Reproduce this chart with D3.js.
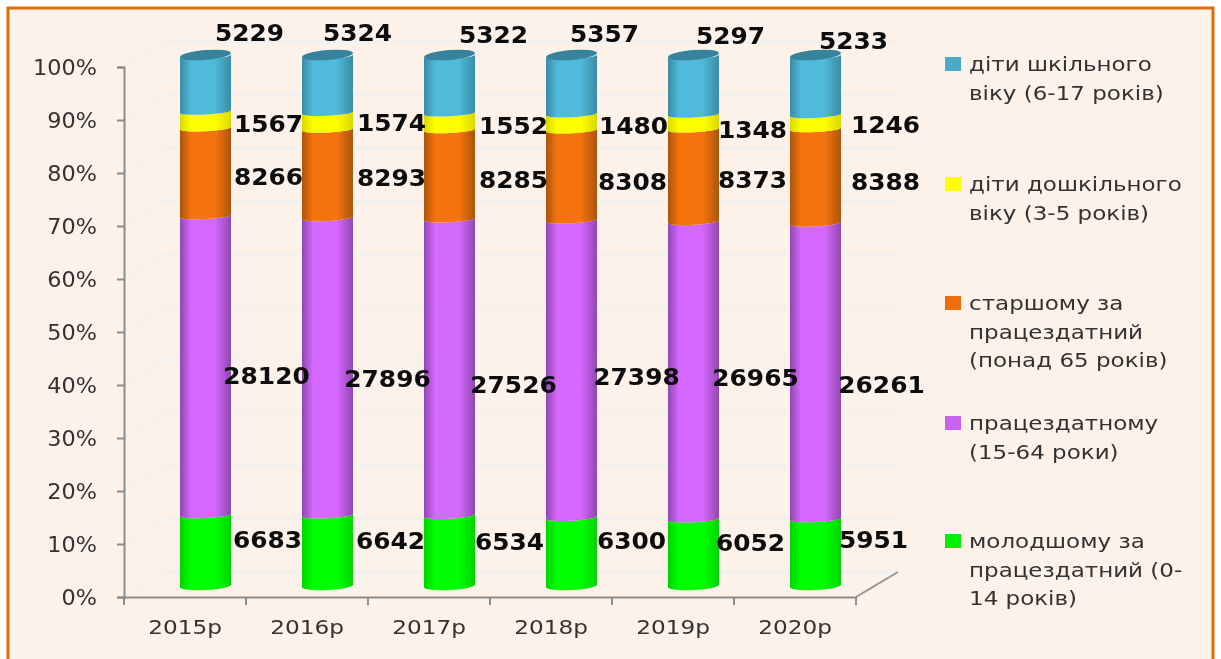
<!DOCTYPE html>
<html><head><meta charset="utf-8">
<style>html,body{margin:0;padding:0;background:#fff;overflow:hidden}svg{display:block}text{font-family:"DejaVu Sans",sans-serif}</style>
<script src="https://cdn.jsdelivr.net/npm/d3@7/dist/d3.min.js"></script>
</head><body><svg id="c" width="1221" height="659"></svg>
<script>
const years=["2015р","2016р","2017р","2018р","2019р","2020р"];
const young=[6683,6642,6534,6300,6052,5951];
const working=[28120,27896,27526,27398,26965,26261];
const elder=[8266,8293,8285,8308,8373,8388];
const preschool=[1567,1574,1552,1480,1348,1246];
const school=[5229,5324,5322,5357,5297,5233];
const percentTicks=[0,.1,.2,.3,.4,.5,.6,.7,.8,.9,1];
const legendYoung=["молодшому за","працездатний (0-","14 років)"];
const legendWorking=["працездатному","(15-64 роки)"];
const legendElder=["старшому за","працездатний","(понад 65 років)"];
const legendPreschool=["діти дошкільного","віку (3-5 років)"];
const legendSchool=["діти шкільного","віку (6-17 років)"];

// label placement tweaks, hand-placed in the original
const nudgeX={young:[0,1,-2,-2,-5,-4],working:[-1,-2,2,3,0,4],elder:[1,2,2,-1,-3,8],preschool:[1,2,2,0,-3,8],school:[6,-8,6,-5,-1,0]};
const nudgeY={young:[-9.5,-8.6,-7.8,-9.8,-8.6,-11.5],working:[11.5,13.4,18.6,9,8.5,14.8],elder:[6,5.3,6.4,7.7,5.5,6.9],preschool:[5,3,5.3,4.8,9,4.1],school:[0,0,2,1,3,8]};

const series=[
 {key:"young",values:young,legend:legendYoung,c:"#00FF00",e:"#00D400",sw:"#00F000",ly:541},
 {key:"working",values:working,legend:legendWorking,c:"#D568FF",e:"#9048AE",sw:"#C864F0",ly:423},
 {key:"elder",values:elder,legend:legendElder,c:"#F5730C",e:"#AC5508",sw:"#EE6E0C",ly:303},
 {key:"preschool",values:preschool,legend:legendPreschool,c:"#FFFF00",e:"#D8D800",sw:"#FFFF00",ly:184},
 {key:"school",values:school,legend:legendSchool,c:"#4FBAD9",e:"#3A8BA6",sw:"#46AAC8",ly:64}
];

const svg=d3.select("#c");
const W=1221,H=659;
const defs=svg.append("defs");
const blur=defs.append("filter").attr("id","soft").attr("x","-5%").attr("y","-5%").attr("width","110%").attr("height","110%");
blur.append("feGaussianBlur").attr("stdDeviation",0.65);
series.forEach(s=>{
  const g=defs.append("linearGradient").attr("id","g-"+s.key);
  [[0,s.e],[.22,s.c],[.68,s.c],[1,s.e]].forEach(([o,col])=>g.append("stop").attr("offset",o).attr("stop-color",col));
});

svg.append("rect").attr("x",8).attr("y",8).attr("width",1205).attr("height",H+20)
  .attr("fill","#FDF2EA").attr("stroke","#E36C0A").attr("stroke-width",3);

const root=svg.append("g").attr("filter","url(#soft)");
const left=124,right=856,y0=597,y1=67,depthX=41,depthY=25;
const x=d3.scaleBand().domain(years).range([left,right]).padding(0);
const y=d3.scaleLinear().domain([0,1]).range([y0,y1]);
const yBar=y.copy().range([y0-11,y1-11]);
const shiftX=20.5,rx=25.5,ry=5,ryBase=4,rySeam=3,tilt=1.3,capTilt=2;

// walls
const wall=root.append("g").attr("fill","none").attr("stroke","#EFF0F1").attr("stroke-width",2);
percentTicks.forEach(t=>{
  wall.append("path").attr("d",d3.line()([[left,y(t)],[left+depthX,y(t)-depthY],[right+depthX+1,y(t)-depthY]]));
});
root.append("path").attr("fill","none").attr("stroke","#999").attr("stroke-width",2)
  .attr("d",d3.line()([[right,y0],[right+depthX+1,y0-depthY]]));

// axes
const fmt=d3.format(".0%");
const ax=root.append("g").attr("transform",`translate(${left},0)`).call(d3.axisLeft(y).tickValues(percentTicks).tickFormat(fmt).tickSize(7).tickPadding(0));
const bx=root.append("g").attr("transform",`translate(0,${y0})`).call(d3.axisBottom(x).tickSize(0).tickPadding(0));
[ax,bx].forEach(a=>{a.select(".domain").attr("stroke","#8c8c8c").attr("stroke-width",2);a.selectAll("line").attr("stroke","#8c8c8c").attr("stroke-width",2);});
ax.selectAll("text").attr("font-size",20.5).attr("fill","#333").attr("text-anchor","end").attr("dy",".35em").attr("x",0)
  .attr("transform","translate(-27,0) scale(1.09,1)");
bx.selectAll("text").attr("font-size",20).attr("fill","#333").attr("dy",0).attr("y",0)
  .attr("transform","translate(0,37) scale(1.16,1)");
const bTicks=x.domain().map(d=>x(d)).concat([right]);
root.append("g").selectAll("line").data(bTicks).join("line")
  .attr("x1",d=>d).attr("x2",d=>d).attr("y1",y0).attr("y2",y0+8).attr("stroke","#8c8c8c").attr("stroke-width",2);

// cylinders
const angle=-Math.atan2(tilt*2,rx*2)*180/Math.PI;
const capAngle=-Math.atan2(capTilt*2,rx*2)*180/Math.PI;
function seg(cx,ya,yb,ryB){
  const l=cx-rx,r=cx+rx;
  return `M${l},${ya+tilt}A${rx},${rySeam} ${angle} 0 0 ${r},${ya-tilt}L${r},${yb-tilt}A${rx},${ryB} ${angle} 0 1 ${l},${yb+tilt}Z`;
}
const cum=years.map(()=>0);
const totals=years.map((_,i)=>d3.sum(series,s=>s.values[i]));
const labelRows=[];
series.forEach(s=>{
  const g=root.append("g");
  s.values.forEach((v,i)=>{
    const cx=x(years[i])+x.bandwidth()/2+shiftX;
    const a=cum[i]/totals[i], b=(cum[i]+v)/totals[i];
    g.append("path").attr("d",seg(cx,yBar(b),yBar(a),a===0?ryBase:rySeam)).attr("fill",`url(#g-${s.key})`);
    const isTop=s.key==="school";
    labelRows.push({v,x:cx+(isTop?38:62)+nudgeX[s.key][i],y:(isTop?yBar(1)-23:yBar((a+b)/2)-1)+nudgeY[s.key][i]});
    cum[i]+=v;
  });
});
root.append("g").selectAll("ellipse").data(years).join("ellipse")
  .attr("rx",rx).attr("ry",ry).attr("fill","#37839C")
  .attr("transform",d=>`translate(${x(d)+x.bandwidth()/2+shiftX},${yBar(1)-1}) rotate(${capAngle})`);

// value labels
root.append("g").selectAll("text").data(labelRows).join("text")
  .text(d=>d.v).attr("font-size",23).attr("font-weight","bold").attr("fill","#0a0a0a")
  .attr("text-anchor","middle").attr("dy",".36em")
  .attr("transform",d=>`translate(${d.x},${d.y}) scale(1.08,1)`);

// legend
const lg=root.append("g");
series.forEach(s=>{
  lg.append("rect").attr("x",945).attr("y",s.ly-7).attr("width",16).attr("height",14).attr("fill",s.sw);
  s.legend.forEach((t,j)=>{
    lg.append("text").text(t).attr("font-size",20).attr("fill","#333")
      .attr("transform",`translate(969,${s.ly+7+j*28.7}) scale(1.15,1)`);
  });
});
</script></body></html>
